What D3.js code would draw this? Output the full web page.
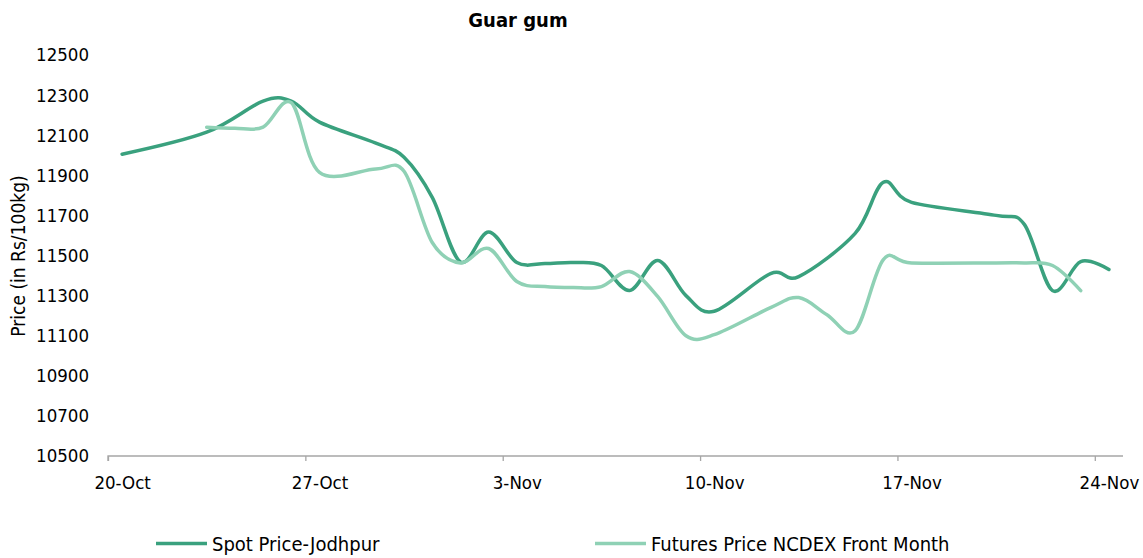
<!DOCTYPE html>
<html>
<head>
<meta charset="utf-8">
<script src="https://cdn.jsdelivr.net/npm/d3@7"></script>
<style>
  body { margin: 0; background: #fff; }
  text { font-family: "DejaVu Sans Condensed", "DejaVu Sans", sans-serif; font-stretch: condensed; fill: #000; }
</style>
</head>
<body>
<script>
// Guar gum, spot vs futures
var spotDates = ["2014-10-20", "2014-10-23", "2014-10-25", "2014-10-26", "2014-10-27", "2014-10-29",
                 "2014-10-30", "2014-10-31", "2014-11-01", "2014-11-02", "2014-11-03", "2014-11-04",
                 "2014-11-05", "2014-11-06", "2014-11-07", "2014-11-08", "2014-11-09", "2014-11-10",
                 "2014-11-12", "2014-11-13", "2014-11-15", "2014-11-16", "2014-11-17", "2014-11-20",
                 "2014-11-21", "2014-11-22", "2014-11-23", "2014-11-24"];
var spotValues = [12005, 12115, 12270, 12270, 12165, 12060,
                  11990, 11790, 11468, 11617, 11465, 11460,
                  11465, 11450, 11325, 11475, 11300, 11222,
                  11410, 11395, 11610, 11865, 11765, 11700,
                  11655, 11325, 11470, 11430];

var futDates = ["2014-10-23", "2014-10-24", "2014-10-25", "2014-10-26", "2014-10-27",
                "2014-10-29", "2014-10-30", "2014-10-31", "2014-11-01", "2014-11-02", "2014-11-03",
                "2014-11-04", "2014-11-05", "2014-11-06", "2014-11-07", "2014-11-08", "2014-11-09",
                "2014-11-10", "2014-11-12", "2014-11-13", "2014-11-14", "2014-11-15", "2014-11-16",
                "2014-11-17", "2014-11-20", "2014-11-21", "2014-11-22", "2014-11-23"];
var futValues = [12140, 12135, 12140, 12262, 11915,
                 11932, 11920, 11565, 11463, 11535, 11370,
                 11345, 11340, 11345, 11420, 11295, 11100,
                 11105, 11240, 11290, 11205, 11125, 11480,
                 11463, 11463, 11463, 11450, 11325];

var xTickDates = ["2014-10-20", "2014-10-27", "2014-11-03", "2014-11-10", "2014-11-17", "2014-11-24"];
var yTicks = [10500, 10700, 10900, 11100, 11300, 11500, 11700, 11900, 12100, 12300, 12500];

var seriesNames = ["Spot Price-Jodhpur", "Futures Price NCDEX Front Month"];
var colors = ["#3aa17e", "#8fd1b5"];

var width = 1143,
    height = 558;

var parse = d3.timeParse("%Y-%m-%d");
var fmt = d3.timeFormat("%-d-%b");
var halfDay = 12 * 3600 * 1000;

// each date sits in the middle of its day slot, like a date axis
var x = d3.scaleTime()
    .domain([parse("2014-10-20"), parse("2014-11-25")])
    .range([108, 1123]);

var y = d3.scaleLinear()
    .domain([10500, 12500])
    .range([456, 55]);

var svg = d3.select("body").append("svg")
    .attr("width", width)
    .attr("height", height);

var toPoints = function(dates, values) {
    return dates.map(function(d, i) {
        return {date: new Date(parse(d).getTime() + halfDay), value: values[i]};
    });
}

var series = [toPoints(spotDates, spotValues), toPoints(futDates, futValues)];

// title
svg.append("text")
    .attr("x", 518)
    .attr("y", 27)
    .attr("text-anchor", "middle")
    .style("font-size", "20px")
    .style("font-weight", "bold")
    .text("Guar gum");

// y labels, no axis line
var yAxis = svg.append("g")
    .attr("transform", "translate(96,0)")
    .call(d3.axisLeft(y).tickValues(yTicks).tickSize(0).tickPadding(7).tickFormat(d3.format("d")));
yAxis.select(".domain").remove();
yAxis.selectAll("text")
    .style("font-size", "18.5px");

svg.append("text")
    .attr("transform", "translate(25,256) rotate(-90)")
    .attr("text-anchor", "middle")
    .style("font-size", "19px")
    .text("Price (in Rs/100kg)");

// x axis
var xAxis = svg.append("g")
    .attr("transform", "translate(0," + y(10500) + ")")
    .call(d3.axisBottom(x)
        .tickValues(xTickDates.map(parse))
        .tickSize(5)
        .tickFormat(fmt));
xAxis.select(".domain")
    .attr("d", "M" + x.range()[0] + ",5V0H" + x.range()[1])
    .attr("stroke", "#a6a6a6")
    .attr("stroke-width", 1.3);
xAxis.selectAll(".tick line")
    .attr("stroke", "#a6a6a6")
    .attr("stroke-width", 1.3);
xAxis.selectAll(".tick text")
    .attr("x", x(new Date(parse("2014-10-20").getTime() + halfDay)) - x.range()[0])
    .attr("y", 33)
    .attr("dy", null)
    .style("font-size", "18.5px");

var line = d3.line()
    .x(function(d) { return x(d.date); })
    .y(function(d) { return y(d.value); })
    .curve(d3.curveCardinal.tension(0));

svg.selectAll(".series")
    .data(series)
    .enter().append("path")
    .attr("class", "series")
    .attr("fill", "none")
    .attr("stroke", function(d, i) { return colors[i]; })
    .attr("stroke-width", 3.5)
    .attr("stroke-linecap", "round")
    .attr("d", line);

// legend
var legendX = [156, 595];
var legend = svg.selectAll(".legend")
    .data(seriesNames)
    .enter().append("g")
    .attr("class", "legend")
    .attr("transform", function(d, i) { return "translate(" + legendX[i] + ",543.5)"; });
legend.append("line")
    .attr("x1", 0)
    .attr("x2", 51)
    .attr("stroke", function(d, i) { return colors[i]; })
    .attr("stroke-width", 3.5);
legend.append("text")
    .attr("x", 56)
    .attr("y", 7)
    .style("font-size", "20px")
    .text(function(d) { return d; });
</script>
</body>
</html>
